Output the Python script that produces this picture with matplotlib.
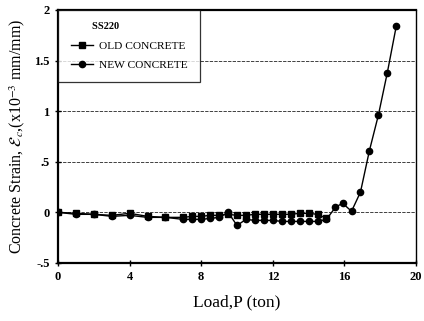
import numpy as np
import matplotlib
import matplotlib.pyplot as plt

matplotlib.use('Agg')

plt.rcParams['font.family'] = ['Liberation Serif', 'DejaVu Serif']
plt.rcParams['mathtext.fontset'] = 'stix'

# --- Datos: deformación del concreto vs carga ---
carga_viejo = [0, 1, 2, 3, 4, 5, 6, 7, 7.5, 8, 8.5, 9, 9.5, 10, 10.5, 11,
               11.5, 12, 12.5, 13, 13.5, 14, 14.5, 15]
def_viejo = [0, -0.01, -0.02, -0.03, -0.01, -0.04, -0.05, -0.05, -0.04, -0.04,
             -0.03, -0.03, -0.02, -0.03, -0.03, -0.02, -0.02, -0.02, -0.02,
             -0.02, -0.01, -0.01, -0.02, -0.06]

carga_nuevo = [0, 1, 2, 3, 4, 5, 6, 7, 7.5, 8, 8.5, 9, 9.5, 10, 10.5, 11,
               11.5, 12, 12.5, 13, 13.5, 14, 14.5, 15, 15.5, 15.9, 16.4,
               16.9, 17.4, 17.9, 18.4, 18.9]
def_nuevo = [0, -0.02, -0.02, -0.04, -0.03, -0.05, -0.05, -0.07, -0.07, -0.07,
             -0.06, -0.05, 0.0, -0.13, -0.07, -0.08, -0.08, -0.08, -0.09,
             -0.09, -0.09, -0.09, -0.09, -0.07, 0.05, 0.09, 0.01, 0.20, 0.61,
             0.96, 1.38, 1.84]

xticks = [0, 4, 8, 12, 16, 20]
yticks = [-0.5, 0, 0.5, 1, 1.5, 2]
ytick_labels = ['-.5', '0', '.5', '1', '1.5', '2']

fig = plt.figure(figsize=(4.24, 3.21), dpi=100)
ax = fig.add_axes([0.137, 0.181, 0.844, 0.788])

ax.plot(carga_viejo, def_viejo, color='black', lw=1.0, marker='s', ms=4,
        label='OLD CONCRETE')
ax.plot(carga_nuevo, def_nuevo, color='black', lw=1.0, marker='o', ms=4.5,
        label='NEW CONCRETE')

ax.set_xlim(0, 20)
ax.set_ylim(-0.5, 2)
ax.set_xticks(xticks)
ax.set_xticklabels([str(t) for t in xticks], fontweight='bold', fontsize=9)
ax.set_yticks(yticks)
ax.set_yticklabels(ytick_labels, fontweight='bold', fontsize=9)
ax.tick_params(direction='inout', length=5, width=1)

# líneas de referencia horizontales
for yv in yticks[1:-1]:
    ax.axhline(yv, color='#222222', lw=0.6, ls=(0, (4, 1.5)), zorder=0)

for lado in ['left', 'bottom', 'top']:
    ax.spines[lado].set_linewidth(1.6)
ax.spines['right'].set_linewidth(1.0)

ax.set_xlabel('Load,P (ton)', fontsize=12.5, labelpad=8)
ax.set_ylabel(r'Concrete Strain, $\mathcal{E}_c$,(x10$^{-3}$ mm/mm)',
              fontsize=11.5, labelpad=5)

leg = ax.legend(loc='upper left', title='        SS220', fontsize=8.2,
                title_fontsize=7.5, frameon=True, fancybox=False,
                edgecolor='black', borderaxespad=0.0, handlelength=2.0,
                borderpad=1.1, labelspacing=0.8, handletextpad=0.5)
leg.set_alignment('left')
leg.get_frame().set_linewidth(0.9)
leg.get_title().set_fontweight('bold')

fig.savefig('out.png', dpi=100)
plt.close(fig)
